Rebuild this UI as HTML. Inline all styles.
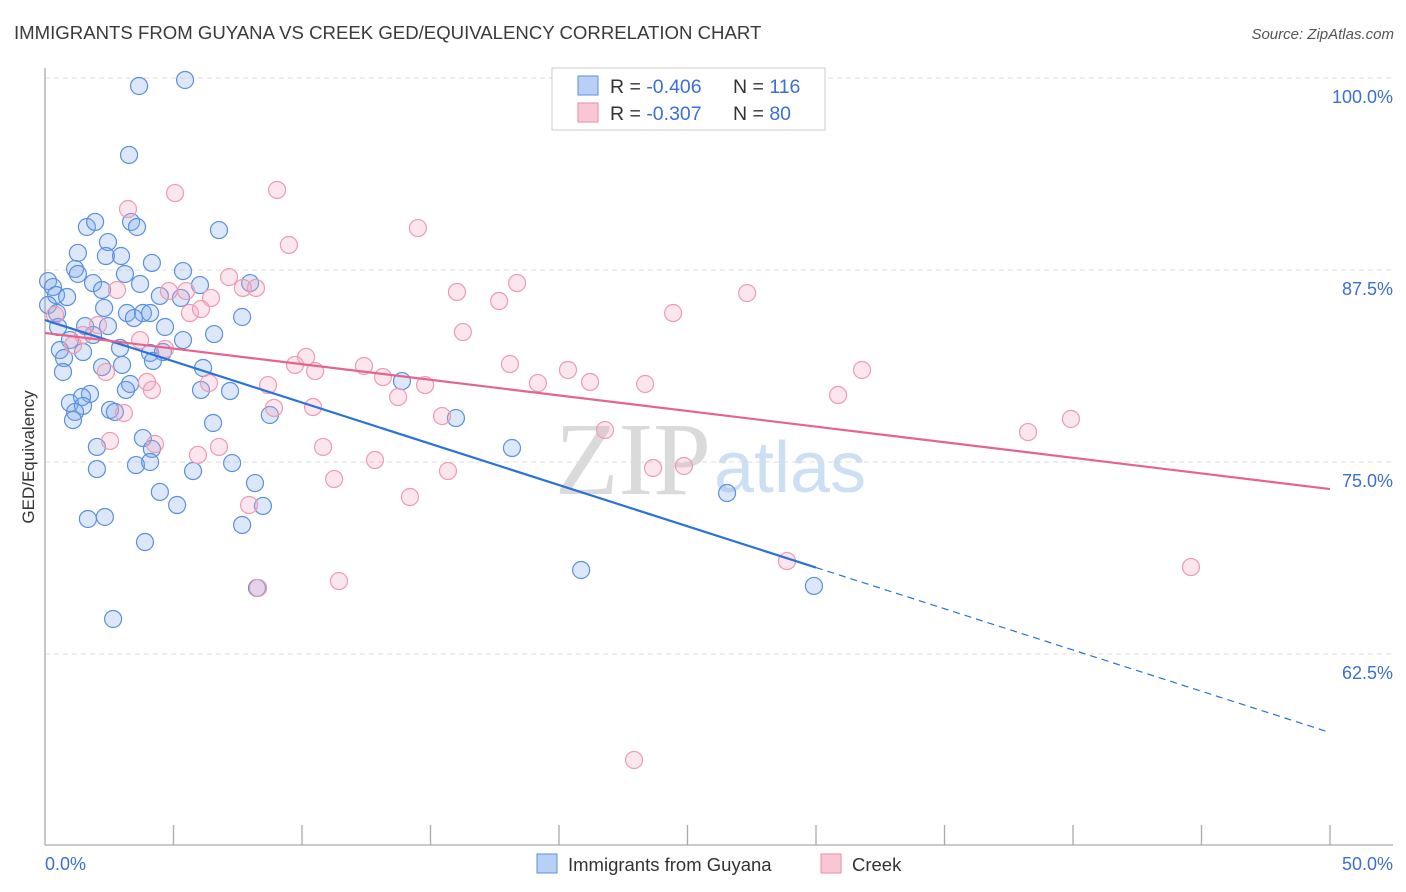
<!DOCTYPE html>
<html><head><meta charset="utf-8"><style>
body{margin:0;background:#fff;font-family:"Liberation Sans",sans-serif;}
svg{display:block}
</style></head><body>
<svg id="chart" width="1406" height="892" viewBox="0 0 1406 892">
<text x="14" y="39" font-size="18.6" fill="#3a3a3a">IMMIGRANTS FROM GUYANA VS CREEK GED/EQUIVALENCY CORRELATION CHART</text>
<text x="1394" y="39" font-size="15" fill="#555" font-style="italic" text-anchor="end">Source: ZipAtlas.com</text>
<text x="555" y="494" font-size="104" fill="#dadada" font-family="Liberation Serif,serif">ZIP</text>
<text x="714" y="492" font-size="72" fill="#cddff4">atlas</text>
<g id="grid"></g>
<line x1="45" y1="68" x2="45" y2="845" stroke="#aaa" stroke-width="1.3"/>
<line x1="45" y1="845" x2="1393" y2="845" stroke="#aaa" stroke-width="1.3"/>
<text x="34" y="457" font-size="17" fill="#333" text-anchor="middle" transform="rotate(-90 34 457)">GED/Equivalency</text>
<text x="45" y="870" font-size="18" fill="#3b6fd4">0.0%</text>
<text x="1393" y="870" font-size="18" fill="#3b6fd4" text-anchor="end">50.0%</text>
<g id="points"></g>
<g id="trends"></g>
<g>
<rect x="552" y="68" width="273" height="62" fill="#fff" stroke="#ccc"/>
<rect x="578" y="76" width="20" height="19" fill="#b7d0f3" stroke="#5b8fe0"/>
<rect x="578" y="103" width="20" height="19" fill="#f9c6d4" stroke="#ea8aa6"/>
<text x="610" y="93" font-size="19.5" fill="#333">R = <tspan fill="#3b6fd4">-0.406</tspan><tspan x="733">N = </tspan><tspan fill="#3b6fd4">116</tspan></text>
<text x="610" y="120" font-size="19.5" fill="#333">R = <tspan fill="#3b6fd4">-0.307</tspan><tspan x="733">N = </tspan><tspan fill="#3b6fd4"> 80</tspan></text>
</g>
<g>
<rect x="537" y="854" width="20" height="19" fill="#b7d0f3" stroke="#5b8fe0"/>
<text x="568" y="871" font-size="18.5" fill="#333">Immigrants from Guyana</text>
</g>
<g>
<rect x="821" y="854" width="20" height="19" fill="#f9c6d4" stroke="#ea8aa6"/>
<text x="852" y="871" font-size="18.5" fill="#333">Creek</text>
</g>
</svg>
<script>
const yTicks=[100,87.5,75,62.5];
const yTickLabels=["100.0%","87.5%","75.0%","62.5%"];
const xTickVals=[5,10,15,20,25,30,35,40,45,50];
const blueX=[3.66,5.45,3.27,1.63,1.95,3.35,3.58,6.77,2.45,1.28,2.37,2.96,4.16,1.17,5.37,3.11,0.12,1.28,1.87,0.31,7.98,6.03,2.22,0.43,4.47,5.29,0.86,3.70,0.12,2.30,3.19,3.81,4.09,7.67,0.47,3.46,4.67,2.45,6.58,5.37,1.87,0.51,1.56,0.97,2.92,4.09,4.59,0.58,1.48,0.74,2.22,3.00,6.15,4.20,0.70,13.89,3.31,3.15,7.20,6.07,1.75,1.44,0.97,1.48,2.53,2.72,1.17,1.09,8.75,15.99,6.54,3.81,4.16,2.02,18.17,3.54,4.09,2.02,5.76,7.28,4.47,5.14,8.17,8.48,1.67,2.33,7.67,3.89,26.54,20.86,29.92,8.25,2.65];
const blueY=[99.48,99.87,94.99,90.30,90.63,90.63,90.30,90.10,89.32,88.61,88.41,88.41,87.96,87.57,87.43,87.24,86.78,87.24,86.65,86.39,86.65,86.52,86.20,85.87,85.81,85.68,85.74,86.59,85.22,85.03,84.70,84.70,84.70,84.44,84.70,84.37,83.79,83.85,83.33,82.94,83.27,83.79,83.85,82.94,82.42,82.10,82.16,82.29,82.16,81.77,81.18,81.32,81.12,81.58,80.86,80.27,80.08,79.69,79.62,79.69,79.43,79.23,78.84,78.65,78.39,78.26,78.26,77.73,78.06,77.86,77.54,76.56,75.85,75.98,75.91,74.80,75.00,74.54,74.41,74.93,73.05,72.20,73.63,72.14,71.29,71.42,70.90,69.79,72.98,67.97,66.93,66.80,64.78];
const pinkX=[22.22,3.23,5.06,9.03,14.51,9.49,7.16,2.80,7.70,8.21,5.49,4.82,16.03,18.37,17.67,27.32,6.46,5.64,6.07,24.44,0.39,2.06,3.70,16.26,1.48,1.09,4.67,10.16,9.73,10.51,12.41,18.09,13.15,20.35,21.21,19.18,23.35,31.79,6.38,8.68,3.97,4.16,13.74,14.79,30.86,2.37,10.43,8.91,15.45,21.79,3.07,2.53,4.28,10.82,6.77,38.25,39.92,5.95,12.84,15.68,11.25,23.66,24.86,14.20,7.94,28.87,8.29,11.44,44.59,22.92];
const pinkY=[99.74,91.47,92.51,92.71,90.23,89.13,87.04,86.20,86.33,86.33,86.13,86.13,86.07,86.65,85.48,86.00,85.68,84.70,84.96,84.70,84.57,83.92,82.94,83.46,83.27,82.62,82.36,81.84,81.32,80.92,81.25,81.38,80.53,80.99,80.21,80.14,80.08,80.99,80.14,80.01,80.21,79.69,79.23,80.01,79.36,80.86,78.58,78.52,77.99,77.08,78.19,76.37,76.17,75.98,75.98,76.95,77.80,75.46,75.13,74.41,73.89,74.61,74.74,72.72,72.20,68.55,66.80,67.25,68.16,55.60];
const blueTrend=[84.24,-0.537,30.0];
const pinkTrend=[83.4,-0.2032];
const NS="http://www.w3.org/2000/svg";
const sx=v=>45+v/50*1285;
const sy=v=>78+(100-v)*15.36;
function mk(t,a,p){const e=document.createElementNS(NS,t);for(const k in a)e.setAttribute(k,a[k]);p.appendChild(e);return e;}
const grid=document.getElementById('grid');
yTicks.forEach((t,i)=>{
 const l=mk('line',{x1:45,x2:1393,y1:sy(t),y2:sy(t),stroke:'#ddd','stroke-dasharray':'5,4'},grid);
 
 
 const tx=mk('text',{x:1393,y:sy(t)+25,'font-size':18,fill:'#3b6fd4','text-anchor':'end'},grid);
 tx.textContent=yTickLabels[i];
 
 
});
xTickVals.forEach(v=>{
 const l=mk('line',{x1:sx(v),x2:sx(v),y1:825,y2:845,stroke:'#aaa','stroke-width':1.3},grid);
 
 
});
const pts=document.getElementById('points');
blueX.forEach((x,i)=>{
 const c=mk('circle',{cx:sx(x),cy:sy(blueY[i]),r:8.5,fill:'rgba(130,172,232,0.28)',stroke:'#5a90de','stroke-width':1.2},pts);
 
 
});
pinkX.forEach((x,i)=>{
 const c=mk('circle',{cx:sx(x),cy:sy(pinkY[i]),r:8.5,fill:'rgba(245,165,190,0.28)',stroke:'#ee9ab3','stroke-width':1.2},pts);
 
 
});
const tr=document.getElementById('trends');
const bf=x=>blueTrend[0]+blueTrend[1]*x;
const b1=mk('line',{x1:sx(0),y1:sy(bf(0)),x2:sx(blueTrend[2]),y2:sy(bf(blueTrend[2])),stroke:'#2a72d8','stroke-width':2.2},tr);


const b2=mk('line',{x1:sx(blueTrend[2]),y1:sy(bf(blueTrend[2])),x2:sx(50),y2:sy(bf(50)),stroke:'#2a72d8','stroke-width':1.2,'stroke-dasharray':'7,5'},tr);


const pf=x=>pinkTrend[0]+pinkTrend[1]*x;
const p1=mk('line',{x1:sx(0),y1:sy(pf(0)),x2:sx(50),y2:sy(pf(50)),stroke:'#e6648c','stroke-width':2.2},tr);


</script>
</body></html>
